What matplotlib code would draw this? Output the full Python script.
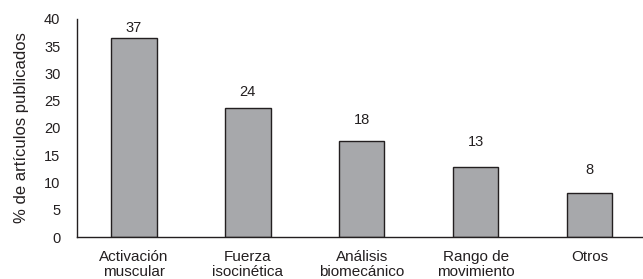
import matplotlib
matplotlib.use("Agg")
import matplotlib.pyplot as plt

categories = ["Activación\nmuscular", "Fuerza\nisocinética", "Análisis\nbiomecánico",
              "Rango de\nmovimiento", "Otros"]
heights = [36.5, 23.7, 17.7, 12.8, 8.0]
value_labels = ["37", "24", "18", "13", "8"]
yticks = [0, 5, 10, 15, 20, 25, 30, 35, 40]

# label centre offset above each bar (points)
label_pad = [7, 11.5, 14.5, 18, 16.5]

dark = "#231f20"
plt.rcParams["font.family"] = ["Liberation Sans", "DejaVu Sans"]

fig = plt.figure(figsize=(6.43, 2.79), dpi=100)
ax = fig.add_axes([0.1198, 0.1505, 0.8802, 0.7815])

x = range(len(categories))
ax.bar(x, heights, width=0.4, color="#a7a8ab", edgecolor=dark, linewidth=1.0)

for xi, h, lab, pad in zip(x, heights, value_labels, label_pad):
    ax.annotate(lab, (xi, h), xytext=(0, pad), textcoords="offset points",
                ha="center", va="center", color=dark, fontsize=10.5)

ax.set_xlim(-0.5, 4.47)
ax.set_ylim(0, 40)
ax.set_yticks(yticks)
ax.set_xticks(list(x))
ax.set_xticklabels(categories, linespacing=1.1, fontsize=11)
ax.tick_params(axis="both", length=0, colors=dark)
ax.tick_params(axis="y", labelsize=10.5, pad=12)
ax.tick_params(axis="x", pad=9)
ax.set_ylabel("% de artículos publicados", color=dark, fontsize=12, labelpad=11)

for s in ["top", "right"]:
    ax.spines[s].set_visible(False)
for s in ["left", "bottom"]:
    ax.spines[s].set_color(dark)
    ax.spines[s].set_linewidth(1.0)

fig.savefig("out.png", dpi=100)
